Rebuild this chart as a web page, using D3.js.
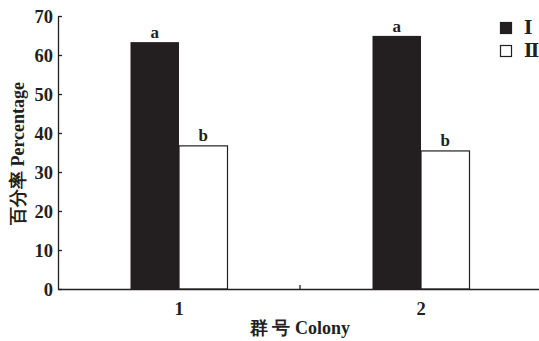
<!DOCTYPE html>
<html>
<head>
<meta charset="utf-8">
<script src="https://cdn.jsdelivr.net/npm/d3@7"></script>
<style>
  body { margin: 0; background: #fff; }
</style>
</head>
<body>
<svg width="539" height="341"></svg>
<script>
const colonies = ['1', '2'];
const seriesNames = ['Ⅰ', 'Ⅱ'];
const valuesI = [63.3, 64.9];
const valuesII = [36.7, 35.4];
const lettersI = ['a', 'a'];
const lettersII = ['b', 'b'];
const yTicks = [0, 10, 20, 30, 40, 50, 60, 70];

const ink = '#231f20';
const serif = "'Liberation Serif', 'Times New Roman', 'DejaVu Serif', serif";
const svg = d3.select('svg');

const plotLeft = 58, plotRight = 542, plotTop = 16, plotBottom = 289;

const x = d3.scaleBand().domain(colonies).range([plotLeft, plotRight]);
const y = d3.scaleLinear().domain([0, 70]).range([plotBottom, plotTop]);
const barW = 48.5;

const rows = colonies.map((c, i) => ({ c, v1: valuesI[i], v2: valuesII[i], l1: lettersI[i], l2: lettersII[i] }));

function txt(sel, size) {
    return sel.style('font-family', serif)
        .style('font-weight', 'bold')
        .style('font-size', size + 'px')
        .attr('fill', ink);
}

// bars I (black)
svg.selectAll('.barI')
    .data(rows)
    .enter()
    .append('rect')
    .attr('x', d => x(d.c) + x.bandwidth() / 2 - barW)
    .attr('y', d => y(d.v1))
    .attr('width', barW)
    .attr('height', d => y(0) - y(d.v1))
    .attr('fill', ink);

// bars II (white)
svg.selectAll('.barII')
    .data(rows)
    .enter()
    .append('rect')
    .attr('x', d => x(d.c) + x.bandwidth() / 2)
    .attr('y', d => y(d.v2))
    .attr('width', barW)
    .attr('height', d => y(0) - y(d.v2))
    .attr('fill', '#fff')
    .attr('stroke', ink)
    .attr('stroke-width', 1.2);

// letters
txt(svg.selectAll('.lI')
    .data(rows)
    .enter()
    .append('text')
    .attr('x', d => x(d.c) + x.bandwidth() / 2 - barW / 2)
    .attr('y', d => y(d.v1) - 4)
    .attr('text-anchor', 'middle')
    .text(d => d.l1), 17);

txt(svg.selectAll('.lII')
    .data(rows)
    .enter()
    .append('text')
    .attr('x', d => x(d.c) + x.bandwidth() / 2 + barW / 2)
    .attr('y', d => y(d.v2) - 5)
    .attr('text-anchor', 'middle')
    .text(d => d.l2), 17);

// y axis
const yAxis = svg.append('g')
    .attr('transform', `translate(${plotLeft},0)`)
    .call(d3.axisRight(y).tickValues(yTicks).tickSize(4).tickSizeOuter(0));
yAxis.select('.domain').attr('stroke', ink).attr('stroke-width', 1.3);
yAxis.selectAll('line').attr('stroke', ink).attr('stroke-width', 1.3);
txt(yAxis.selectAll('text')
    .attr('x', -5)
    .attr('dy', '0.36em')
    .attr('text-anchor', 'end'), 18.5);

// x axis
const xAxis = svg.append('g')
    .attr('transform', `translate(0,${plotBottom})`)
    .call(d3.axisBottom(x).tickSize(0).tickSizeOuter(0));
xAxis.select('.domain').attr('stroke', ink).attr('stroke-width', 1.3);
txt(xAxis.selectAll('text')
    .attr('y', 13), 18.5);
// inward separator tick between colonies
svg.append('line')
    .attr('x1', x('2')).attr('x2', x('2'))
    .attr('y1', plotBottom).attr('y2', plotBottom - 4)
    .attr('stroke', ink).attr('stroke-width', 1.3);

// axis titles
txt(svg.append('text')
    .attr('transform', `translate(24,${(plotTop + plotBottom) / 2 + 1}) rotate(-90)`)
    .attr('text-anchor', 'middle')
    .text('百分率 Percentage'), 18);

txt(svg.append('text')
    .attr('x', 300)
    .attr('y', 334)
    .attr('text-anchor', 'middle')
    .text('群 号 Colony'), 18);

// legend
const legend = svg.append('g').attr('transform', 'translate(500,22)');
seriesNames.forEach((s, i) => {
    legend.append('rect')
        .attr('x', 0.5).attr('y', i * 23 + 0.5)
        .attr('width', 11).attr('height', 11)
        .attr('fill', i === 0 ? ink : '#fff')
        .attr('stroke', ink).attr('stroke-width', 1.2);
    txt(legend.append('text')
        .attr('x', 24)
        .attr('y', i * 23 + 12)
        .text(s), 18);
});
</script>
</body>
</html>
